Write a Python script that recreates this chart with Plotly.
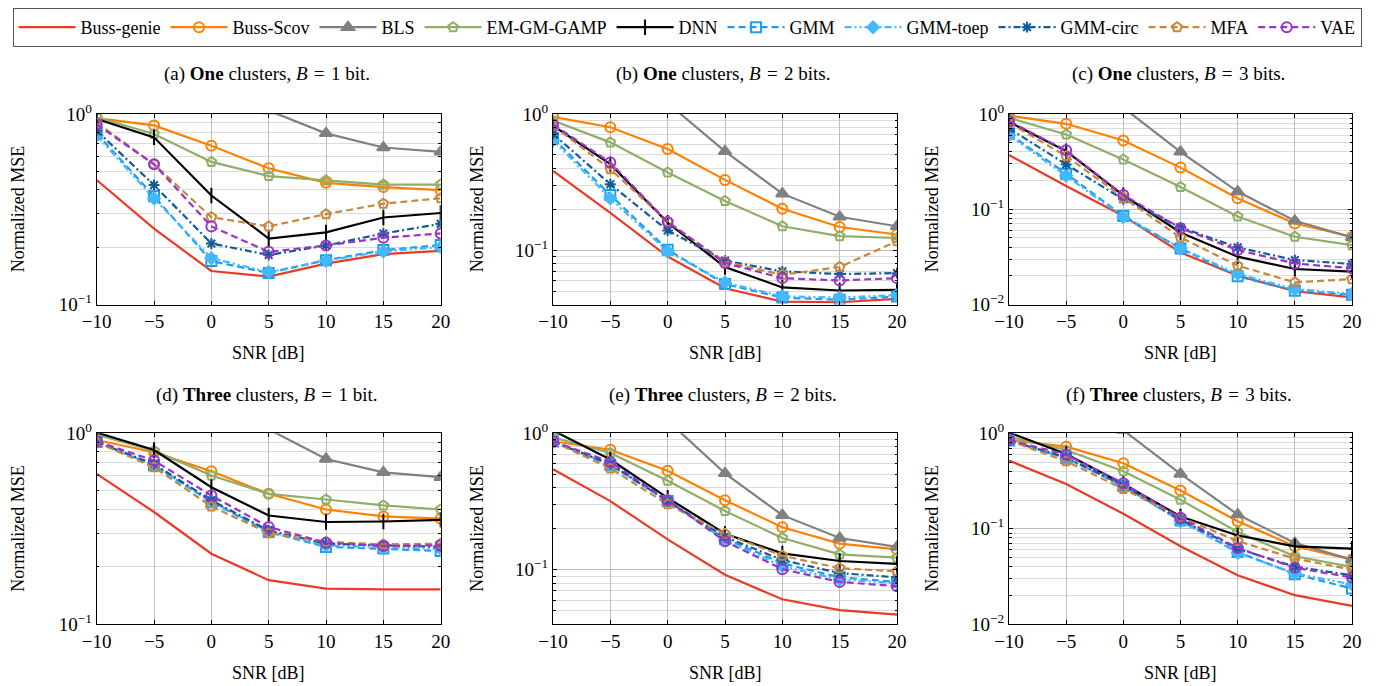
import math
import plotly.graph_objects as go

# page body has an 8px margin: the figure is drawn 8px in from the top-left
OFF = 8
W, H = 1376 - OFF, 686 - OFF

SNR_DB = [-10, -5, 0, 5, 10, 15, 20]
X_TICKS = [-10, -5, 0, 5, 10, 15, 20]
METHODS = ["Buss-genie", "Buss-Scov", "BLS", "EM-GM-GAMP", "DNN",
           "GMM", "GMM-toep", "GMM-circ", "MFA", "VAE"]

# (a) One cluster, B = 1 bit
A_BUSS_GENIE = [0.45, 0.25, 0.150, 0.140, 0.164, 0.184, 0.191]
A_BUSS_SCOV = [0.95, 0.87, 0.68, 0.518, 0.435, 0.413, 0.398]
A_BLS = [3.0, 2.0, 1.4, 1.04, 0.79, 0.666, 0.632]
A_EM_GM_GAMP = [0.96, 0.784, 0.56, 0.472, 0.448, 0.426, 0.426]
A_DNN = [0.94, 0.753, 0.373, 0.222, 0.239, 0.286, 0.302]
A_GMM = [0.79, 0.37, 0.169, 0.1465, 0.171, 0.193, 0.205]
A_GMM_TOEP = [0.77, 0.36, 0.175, 0.148, 0.170, 0.190, 0.200]
A_GMM_CIRC = [0.816, 0.423, 0.209, 0.182, 0.204, 0.236, 0.265]
A_MFA = [0.90, 0.544, 0.287, 0.257, 0.298, 0.338, 0.361]
A_VAE = [0.88, 0.544, 0.257, 0.189, 0.204, 0.224, 0.236]

# (b) One cluster, B = 2 bits
B_BUSS_GENIE = [0.382, 0.188, 0.090, 0.0527, 0.042, 0.0416, 0.044]
B_BUSS_SCOV = [0.95, 0.797, 0.552, 0.328, 0.2017, 0.148, 0.1305]
B_BLS = [2.4, 1.7, 1.2, 0.531, 0.26, 0.176, 0.150]
B_EM_GM_GAMP = [0.893, 0.618, 0.372, 0.23, 0.150, 0.127, 0.123]
B_DNN = [0.82, 0.428, 0.159, 0.0754, 0.0534, 0.0507, 0.0513]
B_GMM = [0.665, 0.254, 0.101, 0.0565, 0.045, 0.0433, 0.0458]
B_GMM_TOEP = [0.64, 0.24, 0.098, 0.058, 0.046, 0.045, 0.047]
B_GMM_CIRC = [0.713, 0.305, 0.1396, 0.084, 0.070, 0.067, 0.068]
B_MFA = [0.82, 0.393, 0.162, 0.082, 0.0662, 0.0754, 0.1165]
B_VAE = [0.834, 0.44, 0.161, 0.0807, 0.0625, 0.060, 0.0625]

# (c) One cluster, B = 3 bits
C_BUSS_GENIE = [0.37, 0.175, 0.085, 0.0352, 0.0201, 0.0138, 0.0119]
C_BUSS_SCOV = [0.96, 0.786, 0.526, 0.273, 0.130, 0.0708, 0.0514]
C_BLS = [3.5, 2.0, 1.16, 0.40, 0.153, 0.0755, 0.0506]
C_EM_GM_GAMP = [0.91, 0.608, 0.333, 0.171, 0.0838, 0.0514, 0.042]
C_DNN = [0.825, 0.407, 0.14, 0.057, 0.0318, 0.0236, 0.0221]
C_GMM = [0.618, 0.236, 0.085, 0.0388, 0.0198, 0.014, 0.0127]
C_GMM_TOEP = [0.60, 0.225, 0.083, 0.039, 0.021, 0.0145, 0.013]
C_GMM_CIRC = [0.703, 0.295, 0.127, 0.0645, 0.0398, 0.0293, 0.0266]
C_MFA = [0.805, 0.361, 0.1324, 0.0506, 0.0256, 0.0171, 0.0185]
C_VAE = [0.838, 0.414, 0.141, 0.0633, 0.0373, 0.027, 0.024]

# (d) Three clusters, B = 1 bit
D_BUSS_GENIE = [0.613, 0.387, 0.234, 0.170, 0.1536, 0.152, 0.152]
D_BUSS_SCOV = [0.923, 0.796, 0.633, 0.482, 0.399, 0.367, 0.357]
D_BLS = [3.0, 2.0, 1.4, 1.05, 0.734, 0.625, 0.589]
D_EM_GM_GAMP = [0.983, 0.812, 0.601, 0.482, 0.450, 0.419, 0.399]
D_DNN = [1.01, 0.818, 0.522, 0.371, 0.343, 0.345, 0.352]
D_GMM = [0.90, 0.678, 0.436, 0.304, 0.254, 0.249, 0.242]
D_GMM_TOEP = [0.90, 0.68, 0.44, 0.305, 0.258, 0.252, 0.248]
D_GMM_CIRC = [0.90, 0.69, 0.445, 0.31, 0.264, 0.258, 0.254]
D_MFA = [0.897, 0.664, 0.414, 0.300, 0.270, 0.262, 0.264]
D_VAE = [0.908, 0.72, 0.472, 0.323, 0.267, 0.257, 0.259]

# (e) Three clusters, B = 2 bits
E_BUSS_GENIE = [0.545, 0.319, 0.167, 0.092, 0.0608, 0.0507, 0.047]
E_BUSS_SCOV = [0.876, 0.759, 0.533, 0.324, 0.205, 0.1555, 0.141]
E_BLS = [2.6, 1.8, 1.24, 0.51, 0.2515, 0.171, 0.147]
E_EM_GM_GAMP = [0.936, 0.718, 0.449, 0.27, 0.171, 0.1297, 0.1227]
E_DNN = [1.05, 0.643, 0.337, 0.1836, 0.132, 0.116, 0.1104]
E_GMM = [0.87, 0.585, 0.319, 0.169, 0.1117, 0.088, 0.0815]
E_GMM_TOEP = [0.87, 0.59, 0.32, 0.165, 0.106, 0.085, 0.080]
E_GMM_CIRC = [0.87, 0.595, 0.319, 0.174, 0.118, 0.0946, 0.088]
E_MFA = [0.87, 0.554, 0.302, 0.1836, 0.1268, 0.1028, 0.0973]
E_VAE = [0.876, 0.618, 0.324, 0.1617, 0.101, 0.0815, 0.0759]

# (f) Three clusters, B = 3 bits
F_BUSS_GENIE = [0.518, 0.295, 0.1435, 0.0654, 0.0325, 0.0201, 0.0155]
F_BUSS_SCOV = [0.852, 0.726, 0.486, 0.252, 0.120, 0.0654, 0.0474]
F_BLS = [3.2, 1.9, 1.08, 0.376, 0.141, 0.0708, 0.0474]
F_EM_GM_GAMP = [0.923, 0.67, 0.40, 0.201, 0.0923, 0.0514, 0.0398]
F_DNN = [1.02, 0.608, 0.295, 0.1346, 0.085, 0.0654, 0.0618]
F_GMM = [0.84, 0.55, 0.28, 0.122, 0.057, 0.0334, 0.0236]
F_GMM_TOEP = [0.84, 0.55, 0.28, 0.12, 0.056, 0.034, 0.026]
F_GMM_CIRC = [0.84, 0.56, 0.284, 0.124, 0.0618, 0.040, 0.0325]
F_MFA = [0.84, 0.51, 0.262, 0.132, 0.0743, 0.0486, 0.0373]
F_VAE = [0.852, 0.598, 0.30, 0.130, 0.0628, 0.039, 0.0308]

SP = "\u2004"
PANEL_TITLES = [
    f"(a) <b>One</b> clusters, <i>B</i>{SP}={SP}1 bit.",
    f"(b) <b>One</b> clusters, <i>B</i>{SP}={SP}2 bits.",
    f"(c) <b>One</b> clusters, <i>B</i>{SP}={SP}3 bits.",
    f"(d) <b>Three</b> clusters, <i>B</i>{SP}={SP}1 bit.",
    f"(e) <b>Three</b> clusters, <i>B</i>{SP}={SP}2 bits.",
    f"(f) <b>Three</b> clusters, <i>B</i>{SP}={SP}3 bits.",
]
Y_MIN = [0.1, 0.04, 0.01, 0.1, 0.04, 0.01]

PANELS = [
    [A_BUSS_GENIE, A_BUSS_SCOV, A_BLS, A_EM_GM_GAMP, A_DNN, A_GMM, A_GMM_TOEP, A_GMM_CIRC, A_MFA, A_VAE],
    [B_BUSS_GENIE, B_BUSS_SCOV, B_BLS, B_EM_GM_GAMP, B_DNN, B_GMM, B_GMM_TOEP, B_GMM_CIRC, B_MFA, B_VAE],
    [C_BUSS_GENIE, C_BUSS_SCOV, C_BLS, C_EM_GM_GAMP, C_DNN, C_GMM, C_GMM_TOEP, C_GMM_CIRC, C_MFA, C_VAE],
    [D_BUSS_GENIE, D_BUSS_SCOV, D_BLS, D_EM_GM_GAMP, D_DNN, D_GMM, D_GMM_TOEP, D_GMM_CIRC, D_MFA, D_VAE],
    [E_BUSS_GENIE, E_BUSS_SCOV, E_BLS, E_EM_GM_GAMP, E_DNN, E_GMM, E_GMM_TOEP, E_GMM_CIRC, E_MFA, E_VAE],
    [F_BUSS_GENIE, F_BUSS_SCOV, F_BLS, F_EM_GM_GAMP, F_DNN, F_GMM, F_GMM_TOEP, F_GMM_CIRC, F_MFA, F_VAE],
]

STYLES = {
    "Buss-genie": dict(color="#ea3a25", dash="solid", symbol=None, msize=0),
    "Buss-Scov": dict(color="#ff8000", dash="solid", symbol="circle-open", msize=10),
    "BLS": dict(color="#808080", dash="solid", symbol="triangle-up", msize=11),
    "EM-GM-GAMP": dict(color="#8fae68", dash="solid", symbol="pentagon-open", msize=10),
    "DNN": dict(color="#000000", dash="solid", symbol="line-ns-open", msize=11),
    "GMM": dict(color="#1e9cf0", dash="7px,4px", symbol="square-open", msize=10),
    "GMM-toep": dict(color="#42b9ff", dash="7px,3px,2px,3px,2px,3px", symbol="diamond", msize=9),
    "GMM-circ": dict(color="#145a96", dash="7px,3px,2px,3px", symbol="asterisk-open", msize=9),
    "MFA": dict(color="#c8873c", dash="7px,4px", symbol="pentagon-open", msize=10),
    "VAE": dict(color="#9933cc", dash="7px,4px", symbol="circle-open", msize=10),
}

FONT = "Liberation Serif, Tinos, Times New Roman, Nimbus Roman, DejaVu Serif, serif"

# Layout geometry (screen pixels of the reference)
X_DOMAINS_PX = [(96.7, 440.7), (553, 897), (1009, 1352)]
Y_DOMAINS_PX = [(113, 304), (433, 624)]
TITLE_Y_PX = [73, 395]
XTITLE_Y_PX = [353, 673]
YTITLE_X_PX = [18, 477, 932]
LEGEND_TOP_PX = 7


def px_x(v):
    return (v - OFF) / W


def px_y(v):
    return 1 - (v - OFF) / H


fig = go.Figure()
annotations = []

for p, series_list in enumerate(PANELS):
    row, col = divmod(p, 3)
    idx = p + 1
    xname = "x" if idx == 1 else f"x{idx}"
    yname = "y" if idx == 1 else f"y{idx}"
    for m, vals in zip(METHODS, series_list):
        st = STYLES[m]
        kw = {}
        if st["symbol"]:
            mode = "lines+markers"
            kw["marker"] = dict(
                symbol=st["symbol"], size=st["msize"], color=st["color"],
                line=dict(color=st["color"], width=2),
            )
        else:
            mode = "lines"
        fig.add_trace(go.Scatter(
            x=SNR_DB, y=vals, name=m, mode=mode,
            line=dict(color=st["color"], width=2.2, dash=st["dash"]),
            xaxis=xname, yaxis=yname, showlegend=(p == 0), legendgroup=m,
            **kw,
        ))

    x0, x1 = X_DOMAINS_PX[col]
    ytop, ybot = Y_DOMAINS_PX[row]
    ymin = Y_MIN[p]
    lo = math.log10(ymin)
    decades = [10 ** k for k in range(int(math.floor(lo)), 1)]
    major = [d for d in decades if d >= ymin * 0.999]
    minor = [k * d for d in decades for k in range(2, 10) if ymin <= k * d < 1]
    ticktext = []
    for d in major:
        e = int(round(math.log10(d)))
        ticktext.append("10<sup>" + (str(e) if e >= 0 else "\u2212" + str(-e)) + "</sup>")

    axis_common = dict(
        showline=True, linecolor="black", linewidth=1, mirror="allticks",
        ticks="inside", ticklen=4, tickcolor="black",
        showgrid=True, gridcolor="#bdbdbd", gridwidth=1,
        zeroline=False, automargin=False,
        tickfont=dict(family=FONT, size=19, color="black"),
    )
    fig.layout[f"xaxis{idx if idx > 1 else ''}"] = dict(
        axis_common, domain=[px_x(x0), px_x(x1)], anchor=yname,
        range=[-10, 20], tickmode="array", tickvals=X_TICKS,
    )
    fig.layout[f"yaxis{idx if idx > 1 else ''}"] = dict(
        axis_common, domain=[px_y(ybot), px_y(ytop)], anchor=xname,
        type="log", range=[lo, 0], tickmode="array", tickvals=major,
        ticktext=ticktext,
        minor=dict(tickmode="array", tickvals=minor, ticks="inside", ticklen=2.5,
                   tickcolor="black", showgrid=True, gridcolor="#dcdcdc", gridwidth=1),
    )

    # annotations referenced to the panel's axis domain (do not push margins)
    pw = x1 - x0
    ph = ybot - ytop
    xd = f"{xname} domain"
    yd = f"{yname} domain"

    def dx(v):
        return (v - x0) / pw

    def dy(v):
        return (ybot - v) / ph

    cx = (x0 + x1) / 2
    annotations.append(dict(
        text=PANEL_TITLES[p], x=dx(cx - 2), y=dy(TITLE_Y_PX[row]),
        xref=xd, yref=yd, showarrow=False, xanchor="center", yanchor="middle",
        font=dict(family=FONT, size=19, color="black"),
    ))
    annotations.append(dict(
        text="SNR [dB]", x=dx(cx), y=dy(XTITLE_Y_PX[row]),
        xref=xd, yref=yd, showarrow=False, xanchor="center", yanchor="middle",
        font=dict(family=FONT, size=18, color="black"),
    ))
    annotations.append(dict(
        text="Normalized MSE", x=dx(YTITLE_X_PX[col]), y=dy((ytop + ybot) / 2),
        xref=xd, yref=yd, showarrow=False, xanchor="center", yanchor="middle",
        textangle=-90, font=dict(family=FONT, size=18, color="black"),
    ))

fig.update_layout(
    width=W, height=H, autosize=False,
    margin=dict(l=0, r=0, t=0, b=0, pad=0),
    paper_bgcolor="white", plot_bgcolor="white",
    font=dict(family=FONT, size=18, color="black"),
    annotations=annotations,
    legend=dict(
        orientation="h", x=px_x(687), xanchor="center", y=px_y(LEGEND_TOP_PX), yanchor="top",
        bordercolor="#555555", borderwidth=1, bgcolor="white",
        font=dict(family=FONT, size=18, color="black"),
        itemwidth=57, traceorder="normal",
    ),
)

fig.write_html("out.html")
